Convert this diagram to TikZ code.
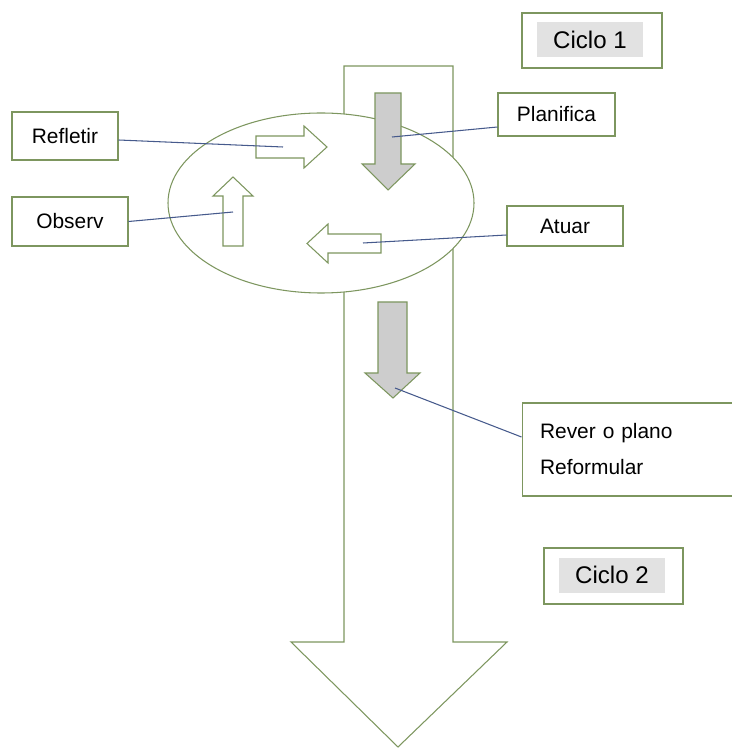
\documentclass[tikz,border=0pt]{standalone}
\usepackage{fontspec}
\setmainfont{Liberation Sans}
\usetikzlibrary{calc}
\definecolor{vertcadre}{RGB}{125,150,95}
\definecolor{bleutrait}{RGB}{70,90,140}
\definecolor{grisfleche}{RGB}{205,205,205}
\definecolor{grisfond}{RGB}{226,226,226}

\begin{document}
\begin{tikzpicture}[x=0.02cm,y=-0.02cm,
    boite/.style={draw=vertcadre,line width=0.6pt,fill=white,inner sep=0pt,font=\fontsize{11.9}{14}\selectfont},
    ciclo/.style={fill=grisfond,inner sep=0pt,minimum width=2.12cm,minimum height=0.7cm,font=\fontsize{13.7}{16}\selectfont},
    fleche/.style={draw=vertcadre,line width=0.6pt,fill=white,line join=miter},
    flechegrise/.style={fleche,fill=grisfleche},
    trait/.style={draw=bleutrait,line width=0.6pt}]

    \useasboundingbox (0,0) rectangle (732,749);

    % Grande flèche du cycle
    \draw[fleche] (344,66) -- (453,66) -- (453,642) -- (507,642) -- (398,747) -- (291,642) -- (344,642) -- cycle;

    % Ellipse du cycle 1
    \draw[vertcadre,line width=0.6pt,fill=white] (321,203) ellipse (153 and 90);

    % Petites flèches dans l'ellipse
    \draw[fleche] (256,136) -- (304,136) -- (304,126) -- (327,147) -- (304,168) -- (304,158) -- (256,158) -- cycle;
    \draw[fleche] (223,246) -- (223,196) -- (213,196) -- (233,177) -- (253,196) -- (243,196) -- (243,246) -- cycle;
    \draw[fleche] (381,234) -- (328,234) -- (328,224) -- (307,243.5) -- (328,263) -- (328,253) -- (381,253) -- cycle;
    \draw[flechegrise] (375,93) -- (401,93) -- (401,164) -- (415,164) -- (388,190) -- (362,164) -- (375,164) -- cycle;
    \draw[flechegrise] (378,302) -- (407,302) -- (407,373) -- (420,373) -- (393,398) -- (365,373) -- (378,373) -- cycle;

    % Points d'attache sur les flèches
    \coordinate (fRefletir) at (283,147);
    \coordinate (fObserv) at (233,212);
    \coordinate (fAtuar) at (363,243);
    \coordinate (fPlanifica) at (392,137);
    \coordinate (fRever) at (395,388);

    % Les boîtes
    \node[boite,minimum width=2.12cm,minimum height=0.96cm] (refletir) at (65,136) {Refletir};
    \node[boite,minimum width=2.32cm,minimum height=0.98cm] (observ) at (70,221.5) {Observ};
    \node[boite,minimum width=2.34cm,minimum height=0.86cm] (planifica) at (556.5,114.5) {Planifica};
    \node[boite,minimum width=2.32cm,minimum height=0.8cm] (atuar) at (565,226) {Atuar};
    \node[boite,align=left,text width=3.76cm,minimum height=1.86cm,inner xsep=0.36cm,font=\fontsize{11.9}{20.5}\selectfont] (rever) at (634,449.5) {Rever o plano\\Reformular};

    % Cycles 1 et 2
    \node[boite,minimum width=2.8cm,minimum height=1.1cm] (ciclo1) at (592,40.5) {};
    \node[ciclo] (ciclo1txt) at (590,39.5) {Ciclo 1};
    \node[boite,minimum width=2.78cm,minimum height=1.12cm] (ciclo2) at (613.5,576) {};
    \node[ciclo] (ciclo2txt) at (612,575) {Ciclo 2};

    % Traits vers les flèches
    \draw[trait] ($(refletir.east)+(0,4)$) -- (fRefletir);
    \draw[trait] (observ.east) -- (fObserv);
    \draw[trait] (fPlanifica) -- ($(planifica.west)+(0,12.5)$);
    \draw[trait] (fAtuar) -- ($(atuar.west)+(0,9)$);
    \draw[trait] (fRever) -- ($(rever.west)+(0,-12.5)$);
\end{tikzpicture}
\end{document}
